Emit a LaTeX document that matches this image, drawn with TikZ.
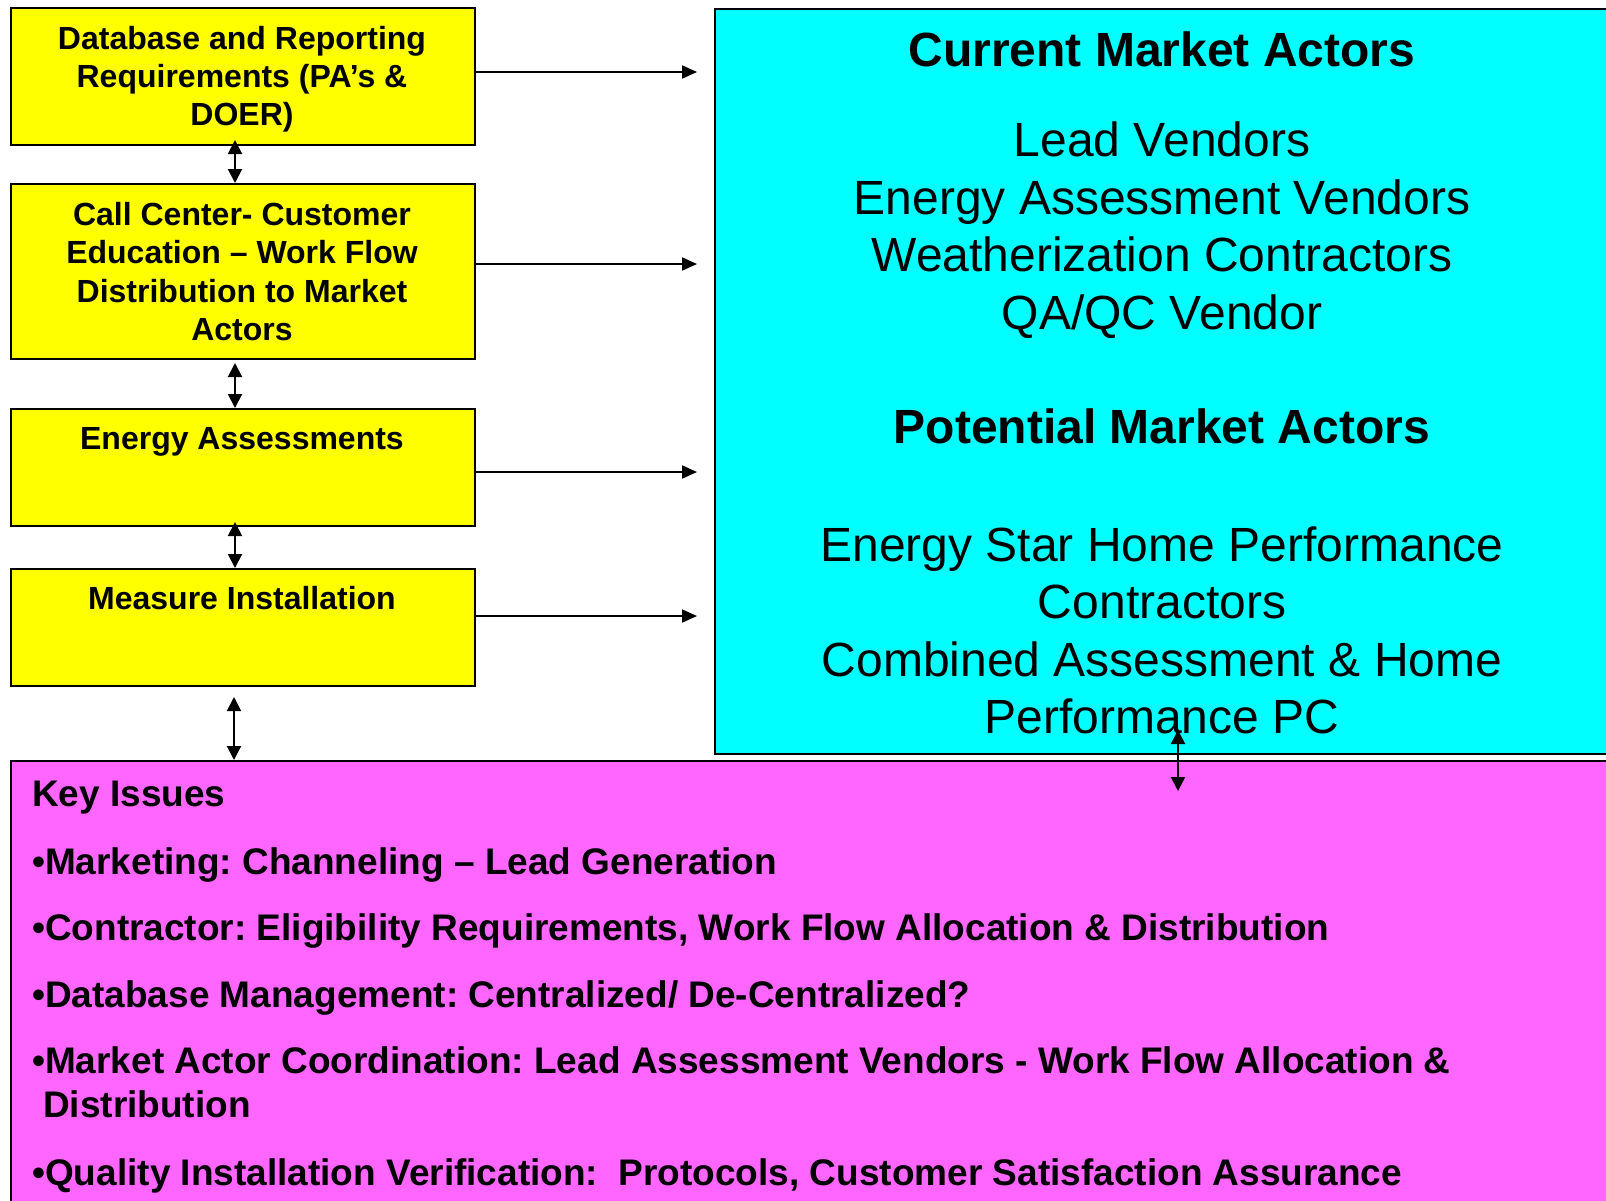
\documentclass[tikz,border=0pt]{standalone}
\usepackage{fontspec}
\setmainfont{Liberation Sans}
\usetikzlibrary{arrows.meta}
\definecolor{ybox}{RGB}{255,255,0}
\definecolor{cbox}{RGB}{0,255,255}
\definecolor{mbox}{RGB}{255,102,255}
\frenchspacing
\tikzset{
 lbox/.style={draw=black, line width=2pt, fill=ybox, anchor=north west, inner sep=0pt, minimum width=464pt},
 conn/.style={line width=2pt, -{Triangle[length=15pt,width=13pt]}},
 bconn/.style={line width=2pt, {Triangle[length=14pt,width=14pt]}-{Triangle[length=14pt,width=14pt]}},
 ltxt/.style={inner sep=0pt, anchor=base, font=\fontsize{32}{38}\selectfont\bfseries},
 ctxt/.style={inner sep=0pt, anchor=base, font=\fontsize{48}{57.6}\selectfont},
 ctitle/.style={inner sep=0pt, anchor=base, font=\fontsize{48}{57.6}\selectfont\bfseries},
 ktxt/.style={inner sep=0pt, anchor=base west, font=\fontsize{37}{44}\selectfont\bfseries},
}
\begin{document}
\frenchspacing
\begin{tikzpicture}[x=1pt,y=-1pt]
\useasboundingbox (0,0) rectangle (1606,1200);
\fill[white] (0,0) rectangle (1606,1200);
% big boxes
\node[draw, line width=2pt, fill=cbox, anchor=north west, inner sep=0pt, minimum width=940pt, minimum height=745pt] (cyan) at (714,8) {};
\node[draw, line width=2pt, fill=mbox, anchor=north west, inner sep=0pt, minimum width=1640pt, minimum height=480pt] (mag) at (10,760) {};
% left boxes
\node[lbox, minimum height=137pt] (b1) at (10,7) {};
\node[lbox, minimum height=175pt] (b2) at (10,183) {};
\node[lbox, minimum height=117pt] (b3) at (10,408) {};
\node[lbox, minimum height=117pt] (b4) at (10,568) {};
% left texts
\node[ltxt] (b1l1) at (242,49) {Database and Reporting};
\node[ltxt] (b1l2) at (242,87) {Requirements (PA’s \&};
\node[ltxt] (b1l3) at (242,125) {DOER)};
\node[ltxt] (b2l1) at (242,225) {Call Center- Customer};
\node[ltxt] (b2l2) at (242,263) {Education – Work Flow};
\node[ltxt] (b2l3) at (242,302) {Distribution to Market};
\node[ltxt] (b2l4) at (242,340) {Actors};
\node[ltxt] (b3l1) at (242,449) {Energy Assessments};
\node[ltxt] (b4l1) at (242,609) {Measure Installation};
% cyan texts
\node[ctitle] (c1) at (1162,66) {Current Market Actors};
\node[ctxt] (c2) at (1162,156) {Lead Vendors};
\node[ctxt] (c3) at (1162,214) {Energy Assessment Vendors};
\node[ctxt] (c4) at (1162,271) {Weatherization Contractors};
\node[ctxt] (c5) at (1162,329) {QA/QC Vendor};
\node[ctitle] (c6) at (1162,443) {Potential Market Actors};
\node[ctxt] (c7) at (1162,561) {Energy Star Home Performance};
\node[ctxt] (c8) at (1162,618) {Contractors};
\node[ctxt] (c9) at (1162,676) {Combined Assessment \& Home};
\node[ctxt] (c10) at (1162,733) {Performance PC};
% key issues
\node[ktxt] (k0) at (32,806) {Key Issues};
\node[ktxt] (k1) at (32,874) {•Marketing: Channeling – Lead Generation};
\node[ktxt] (k2) at (32,940) {•Contractor: Eligibility Requirements, Work Flow Allocation \& Distribution};
\node[ktxt] (k3) at (32,1007) {•Database Management: Centralized/ De-Centralized?};
\node[ktxt] (k4) at (32,1073) {•Market Actor Coordination: Lead Assessment Vendors - Work Flow Allocation \&};
\node[ktxt] (k5) at (43,1117) {Distribution};
\node[ktxt] (k6) at (32,1185) {•Quality Installation Verification:\ \ Protocols, Customer Satisfaction Assurance};
% horizontal connectors
\coordinate (a1) at (697,72);
\coordinate (a2) at (697,264);
\coordinate (a3) at (697,472);
\coordinate (a4) at (697,616);
\draw[conn] (b1.east |- a1) -- (a1);
\draw[conn] (b2.east |- a2) -- (a2);
\draw[conn] (b3.east |- a3) -- (a3);
\draw[conn] (b4.east |- a4) -- (a4);
% vertical connectors
\draw[bconn] ([xshift=-8pt,yshift=6pt]b1.south) -- ([xshift=-8pt]b2.north);
\draw[bconn] ([xshift=-8pt,yshift=-3pt]b2.south) -- ([xshift=-8pt]b3.north);
\draw[bconn] ([xshift=-8pt,yshift=5pt]b3.south) -- ([xshift=-8pt]b4.north);
\coordinate (v4) at (234,697);
\draw[bconn] (v4) -- (v4 |- mag.north);
\coordinate (cm1) at (1178,730);
\coordinate (cm2) at (1178,791);
\draw[bconn] (cm1) -- (cm2);
\end{tikzpicture}
\end{document}
